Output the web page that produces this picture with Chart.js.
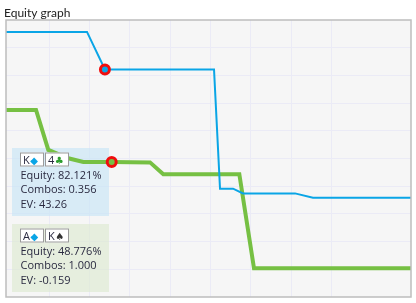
<!DOCTYPE html>
<html>
<head>
<meta charset="utf-8">
<script src="https://cdn.jsdelivr.net/npm/chart.js@4.4.1/dist/chart.umd.min.js"></script>
<style>
  body { margin: 0; background: #fff; }
  #wrap { width: 416px; height: 303px; position: relative; }
</style>
</head>
<body>
<div id="wrap"><canvas id="equityChart"></canvas></div>
<script>
// x = hand progress (arbitrary units), y = equity %
const blueX = [-0.75, 19.35, 23.8, 50.87, 52.36, 55.6, 58.06, 70.97, 75.43, 99.75];
const blueY = [95.7, 95.7, 82.121, 82.121, 39.1, 39.1, 37.4, 37.4, 35.85, 35.85];
const greenX = [-0.75, 6.7, 9.75, 14.71, 18.44, 25.48, 34.99, 38.29, 57.15, 60.79, 99.75];
const greenY = [67.5, 67.5, 53.1, 50.1, 48.776, 48.776, 48.6, 44.3, 44.3, 10.4, 10.4];
const blueMark = 2;   // index of highlighted point
const greenMark = 5;

// info boxes
const hands = [
  { cards: [['K', '\u25C6', '#0aa5e6'], ['4', '\u2663', '#2e9e2e']], lines: ['Equity: 82.121%', 'Combos: 0.356', 'EV: 43.26'], bg: 'rgba(196,228,246,0.6)' },
  { cards: [['A', '\u25C6', '#0aa5e6'], ['K', '\u2660', '#333333']], lines: ['Equity: 48.776%', 'Combos: 1.000', 'EV: -0.159'], bg: 'rgba(220,234,206,0.6)' }
];

const FONT = '11px "Open Sans", Lato, sans-serif';

const toPts = (xs, ys) => xs.map((x, i) => ({ x: x, y: ys[i] }));

const frame = {
  id: 'frame',
  beforeDraw(chart) {
    const { ctx, chartArea: a } = chart;
    ctx.save();
    ctx.fillStyle = '#f6f6f6';
    ctx.fillRect(a.left, a.top, a.right - a.left, a.bottom - a.top);
    ctx.fillStyle = '#222';
    ctx.font = '12px Lato, "Open Sans", sans-serif';
    ctx.textBaseline = 'alphabetic';
    ctx.fillText('Equity graph', 4, 16.5);
    ctx.restore();
  },
  beforeDatasetsDraw(chart) {
    const { ctx } = chart;
    ctx.save();
    hands.forEach((h, i) => {
      ctx.fillStyle = h.bg;
      ctx.fillRect(12, 148 + i * 76, 97, 68);
    });
    ctx.restore();
  },
  afterDatasetsDraw(chart) {
    const { ctx, chartArea: a } = chart;
    ctx.save();
    hands.forEach((h, i) => {
      const top = 148 + i * 76;
      h.cards.forEach((c, j) => {
        const bx = 20 + j * 25;
        ctx.fillStyle = '#fff';
        ctx.fillRect(bx, top + 4.5, 24, 14);
        ctx.strokeStyle = '#9a9a9a';
        ctx.lineWidth = 1;
        ctx.strokeRect(bx + 0.5, top + 5, 23, 13);
        ctx.font = FONT;
        ctx.textBaseline = 'alphabetic';
        ctx.fillStyle = '#2a2a40';
        ctx.fillText(c[0], bx + 3, top + 16);
        const w = ctx.measureText(c[0]).width;
        ctx.font = '10px "DejaVu Sans", sans-serif';
        ctx.fillStyle = c[2];
        ctx.fillText(c[1], bx + 3.5 + w, top + 15.5);
      });
      ctx.font = FONT;
      ctx.fillStyle = '#2a2a40';
      h.lines.forEach((t, k) => ctx.fillText(t, 20.5, top + 30.5 + k * 14.6));
    });
    ctx.strokeStyle = '#bdbdbd';
    ctx.lineWidth = 1.5;
    ctx.strokeRect(a.left, a.top, a.right - a.left, a.bottom - a.top);
    ctx.restore();
  }
};

const gridColor = (ctx) => (ctx.tick && ctx.tick.value > 0 && ctx.tick.value < 99) ? '#ebebf6' : 'rgba(0,0,0,0)';

new Chart(document.getElementById('equityChart'), {
  type: 'line',
  data: {
    datasets: [
      {
        data: toPts(blueX, blueY),
        borderColor: '#0aa5e6',
        borderWidth: 2,
        backgroundColor: '#0aa5e6',
        pointRadius: (c) => c.dataIndex === blueMark ? 4.5 : 0,
        pointBorderColor: '#f00d0d',
        pointBorderWidth: 3,
        pointBackgroundColor: '#0aa5e6',
        tension: 0
      },
      {
        data: toPts(greenX, greenY),
        borderColor: '#76c043',
        borderWidth: 4,
        backgroundColor: '#76c043',
        pointRadius: (c) => c.dataIndex === greenMark ? 4.5 : 0,
        pointBorderColor: '#f00d0d',
        pointBorderWidth: 3,
        pointBackgroundColor: '#76c043',
        tension: 0
      }
    ]
  },
  options: {
    responsive: true,
    maintainAspectRatio: false,
    animation: false,
    layout: { padding: { left: 6, right: 5, top: 20, bottom: 6 } },
    plugins: { legend: { display: false }, tooltip: { enabled: false }, title: { display: false } },
    scales: {
      x: {
        type: 'linear', min: -0.75, max: 99.75,
        ticks: { display: false, stepSize: 10 },
        grid: { drawTicks: false, color: gridColor },
        border: { display: false }
      },
      y: {
        min: 0, max: 100,
        ticks: { display: false, stepSize: 10 },
        grid: { drawTicks: false, color: gridColor },
        border: { display: false }
      }
    }
  },
  plugins: [frame]
});
</script>
</body>
</html>
